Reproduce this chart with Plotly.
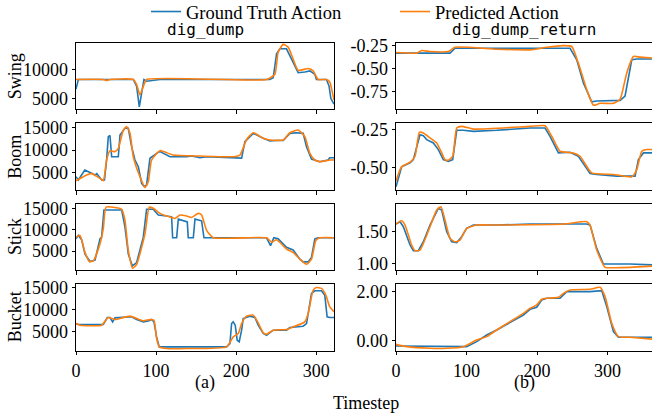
import plotly.graph_objects as go

# ---------------- data ----------------
# left column: dig_dump
swing_gt_t = [0, 2.9, 71.5, 75.7, 79, 81.9, 84.8, 88.1, 100.6, 104.8, 242, 246.1, 250.3, 254.4, 262.7, 271, 277.3, 285.6, 291.9, 298.1, 300.1, 312.6, 315.9, 318, 322]
swing_gt = [6590, 8240, 8240, 7060, 3530, 5590, 8240, 7940, 8120, 8240, 8240, 8530, 12650, 13530, 13530, 11180, 9410, 9530, 9710, 9120, 8240, 8240, 7060, 5000, 4000]
swing_pr_t = [0, 34.1, 38.2, 42.4, 71.5, 75.7, 79.8, 84.8, 88.1, 237.8, 248.2, 252.3, 258.6, 264.8, 271, 277.3, 289.8, 296, 302.2, 312.6, 316.7, 320, 322]
swing_pr = [8240, 8240, 8060, 8240, 8240, 7350, 5590, 7350, 8240, 8240, 9120, 12940, 14290, 13820, 11760, 9820, 10120, 9710, 8240, 8240, 7800, 6000, 4700]

boom_gt_t = [0, 2.9, 11, 16, 24, 26, 30, 32, 35.5, 38.2, 40.3, 42.4, 44.5, 52.8, 54.9, 61.1, 65.3, 69.4, 73.6, 77.8, 81.9, 85.2, 88.1, 92.3, 100.6, 104.8, 117.3, 138.1, 144.3, 154.7, 163, 196.2, 206.7, 210.8, 221.2, 233.7, 242, 250.3, 258.6, 266.9, 275.2, 283.5, 287.7, 293.9, 304.3, 314.6, 316.7, 322]
boom_gt = [4120, 3390, 5600, 5230, 4500, 4800, 3760, 3400, 3400, 7800, 12930, 13200, 8520, 8520, 13300, 14780, 14780, 10730, 7800, 6330, 2660, 1920, 2300, 8170, 9270, 9640, 8520, 8520, 8700, 8300, 8520, 8400, 8200, 11830, 13670, 12570, 12000, 12100, 12100, 13670, 13800, 13670, 10730, 8000, 7430, 7800, 8300, 8300]
boom_pr_t = [0, 13.3, 19.5, 29.9, 34.1, 38.2, 42.4, 48.6, 52.8, 59.1, 63.2, 67.4, 71.5, 79.8, 86.1, 90.2, 94.4, 104.8, 121.4, 154.7, 196.2, 204.6, 212.9, 221.2, 233.7, 242, 258.6, 266.9, 277.3, 285.6, 291.9, 298.1, 304.3, 316.7, 322]
boom_pr = [3230, 4500, 4800, 3760, 3230, 7800, 9850, 9640, 10370, 14400, 15140, 13670, 8520, 4120, 1770, 3020, 7800, 9850, 8880, 8670, 8520, 8880, 12300, 13800, 12570, 12200, 12200, 13800, 14400, 12930, 9270, 7800, 7430, 7800, 7800]

stick_gt_t = [0, 2.9, 7.1, 11.2, 17.5, 23.7, 29.9, 32, 34.9, 57, 61.1, 65.3, 70.3, 75.7, 84, 88.1, 96.4, 102.7, 113.1, 119.3, 120.6, 125.6, 127.7, 136, 138.9, 140.1, 146.4, 148.5, 156.8, 159.7, 237.8, 242.8, 246.9, 252.3, 262.7, 271, 279.4, 283.5, 289.8, 293.9, 298.1, 302.2, 322]
stick_gt = [7860, 8650, 7620, 4280, 2540, 2850, 7860, 8250, 14600, 14600, 10640, 4280, 1500, 2300, 8250, 14760, 14760, 13410, 13180, 13000, 8100, 8100, 12460, 12060, 11800, 8100, 8100, 12460, 12060, 8100, 8100, 6270, 8100, 7860, 5870, 5240, 3090, 2460, 2460, 3490, 7860, 8100, 8100]
stick_pr_t = [0, 5, 11.2, 16.6, 21.6, 29.9, 34.1, 37.4, 46.6, 57, 61.1, 65.3, 70.7, 75.7, 86.1, 91.4, 96.4, 104.8, 113.1, 119.3, 123.5, 129.8, 138.1, 144.3, 152.6, 156.8, 163, 171.3, 237.8, 244.1, 250.3, 262.7, 271, 279.4, 287.7, 293.9, 299.3, 304.3, 322]
stick_pr = [8250, 8650, 4680, 2540, 2700, 6660, 10240, 15240, 15240, 14760, 12220, 5080, 950, 1900, 9050, 15240, 15000, 13810, 13180, 12860, 12620, 13410, 13180, 12860, 13810, 13410, 9840, 8100, 8100, 7060, 7620, 5480, 4680, 3090, 1900, 3090, 7460, 8100, 8100]

bucket_gt_t = [0, 2.9, 34.1, 39.1, 42.4, 45.7, 48.6, 63.2, 69.4, 75.7, 84, 90.2, 94.4, 97.3, 100.6, 103.9, 108.9, 187.9, 192.1, 194.2, 196.2, 198.7, 201.2, 203.7, 206.7, 208.7, 217, 223.3, 227.4, 233.7, 237.8, 246.1, 262.7, 266.9, 283.5, 287.7, 293.9, 298.1, 306.4, 310.5, 313.4, 316.7, 322]
bucket_gt = [6840, 6620, 6620, 8200, 8200, 7220, 8120, 8350, 8350, 7740, 7220, 7440, 7740, 7220, 3830, 1580, 1580, 1580, 2330, 6840, 7220, 6470, 3080, 2710, 5340, 7970, 8500, 8200, 6470, 4590, 4210, 5340, 5340, 5940, 6240, 6840, 13610, 14210, 14210, 13230, 8350, 8200, 8200]
bucket_pr_t = [0, 5, 32, 40.3, 48.6, 67.4, 84, 92.3, 97.3, 100.6, 103.9, 113.1, 138.1, 187.9, 196.2, 202.5, 206.7, 212.9, 221.2, 227.4, 233.7, 237.8, 246.1, 262.7, 271, 285.6, 289.8, 296, 300.1, 306.4, 311.8, 316.7, 322]
bucket_pr = [6840, 6470, 6470, 8200, 7740, 8500, 7440, 7740, 7590, 3460, 1580, 1200, 1200, 1580, 3830, 4590, 6840, 8500, 8730, 6990, 4740, 4440, 5340, 5490, 6090, 7220, 9100, 14360, 14960, 14740, 13230, 10600, 9500]

# right column: dig_dump_return
rswing_gt_t = [0, 76.6, 83.7, 246.8, 256.3, 265.7, 277.5, 284.6, 317.7, 324.8, 334.3, 341.4, 366]
rswing_gt = [-0.332, -0.332, -0.279, -0.279, -0.404, -0.654, -0.86, -0.85, -0.843, -0.796, -0.404, -0.396, -0.396]
rswing_pr_t = [0, 29.3, 36.4, 48.2, 74.2, 83.7, 142.8, 190.1, 213.7, 237.4, 249.2, 258.6, 270.4, 279.9, 289.4, 308.3, 317.7, 327.2, 336.6, 346.1, 366]
rswing_pr = [-0.325, -0.332, -0.304, -0.314, -0.314, -0.268, -0.289, -0.296, -0.268, -0.25, -0.26, -0.44, -0.725, -0.896, -0.875, -0.875, -0.832, -0.546, -0.368, -0.375, -0.386]

rboom_gt_t = [0, 3.3, 8, 19.9, 24.6, 34, 38.8, 43.5, 53, 60, 67.1, 74.2, 80.4, 86.1, 95.5, 109.7, 142.8, 190.1, 211.3, 218.4, 230.3, 246.8, 258.6, 275.2, 284.6, 313, 339, 343.7, 350.8, 366]
rboom_gt = [-0.624, -0.565, -0.493, -0.467, -0.446, -0.283, -0.289, -0.315, -0.337, -0.38, -0.446, -0.457, -0.446, -0.254, -0.254, -0.261, -0.254, -0.239, -0.239, -0.293, -0.402, -0.398, -0.424, -0.537, -0.543, -0.554, -0.554, -0.446, -0.402, -0.402]
rboom_pr_t = [0, 5.7, 8, 19.9, 27, 33.1, 38.8, 48.2, 57.7, 64.8, 69.5, 74.2, 80.4, 86.1, 93.1, 109.7, 190.1, 211.3, 220.8, 232.6, 251.5, 261, 277.5, 308.3, 334.3, 341.4, 348.5, 355.6, 366]
rboom_pr = [-0.587, -0.511, -0.493, -0.463, -0.424, -0.267, -0.272, -0.304, -0.337, -0.402, -0.446, -0.45, -0.424, -0.239, -0.228, -0.246, -0.228, -0.224, -0.293, -0.391, -0.402, -0.424, -0.533, -0.543, -0.559, -0.511, -0.391, -0.38, -0.38]

rstick_gt_t = [0, 5.7, 10.4, 19.9, 24.6, 31.7, 38.8, 48.2, 60, 64.8, 71.9, 79, 86.1, 93.1, 100.2, 109.7, 142.8, 190.1, 270.4, 275.2, 284.6, 294.1, 331.9, 366]
rstick_gt = [1.619, 1.655, 1.577, 1.294, 1.206, 1.206, 1.345, 1.603, 1.861, 1.835, 1.5, 1.345, 1.33, 1.423, 1.552, 1.603, 1.603, 1.619, 1.619, 1.603, 1.242, 1.0, 1.0, 0.985]
rstick_pr_t = [0, 8, 12.8, 22.2, 27, 34, 48.2, 57.7, 63.8, 69.5, 76.6, 83.7, 90.8, 100.2, 114.4, 142.8, 237.4, 270.4, 275.2, 284.6, 296.5, 308.3, 331.9, 366]
rstick_pr = [1.619, 1.67, 1.603, 1.294, 1.206, 1.216, 1.577, 1.835, 1.887, 1.68, 1.397, 1.345, 1.371, 1.552, 1.603, 1.603, 1.619, 1.655, 1.603, 1.216, 0.948, 0.943, 0.948, 0.969]

rbucket_gt_t = [0, 48.2, 100.2, 114.4, 128.6, 142.8, 161.7, 180.6, 190.1, 199.5, 206.6, 213.7, 232.6, 242.1, 275.2, 291.7, 298.8, 308.3, 315.4, 366]
rbucket_gt = [-0.218, -0.245, -0.245, -0.041, 0.231, 0.435, 0.734, 1.047, 1.278, 1.36, 1.66, 1.727, 1.727, 2.0, 2.0, 2.04, 1.387, 0.367, 0.136, 0.136]
rbucket_pr_t = [0, 15.1, 48.2, 71.9, 95.5, 114.4, 128.6, 142.8, 161.7, 180.6, 190.1, 199.5, 206.6, 213.7, 230.3, 237.4, 246.8, 275.2, 289.4, 296.5, 305.9, 315.4, 331.9, 366]
rbucket_pr = [-0.15, -0.245, -0.313, -0.313, -0.245, 0.027, 0.163, 0.435, 0.775, 1.115, 1.319, 1.455, 1.686, 1.727, 1.768, 1.93, 2.067, 2.094, 2.176, 1.795, 0.707, 0.163, 0.136, 0.054]

row_names = ["Swing", "Boom", "Stick", "Bucket"]
col_titles = ["dig_dump", "dig_dump_return"]
sub_labels = ["(a)", "(b)"]
x_ticks = [0, 100, 200, 300]

left_y_ticks = [[5000, 10000], [5000, 10000, 15000], [5000, 10000, 15000], [5000, 10000, 15000]]
right_y_ticks = [[-0.75, -0.50, -0.25], [-0.50, -0.25], [1.00, 1.50], [0.00, 2.00]]
right_y_text = [["-0.75", "-0.50", "-0.25"], ["-0.50", "-0.25"], ["1.00", "1.50"], ["0.00", "2.00"]]

left_series = [(swing_gt_t, swing_gt, swing_pr_t, swing_pr),
               (boom_gt_t, boom_gt, boom_pr_t, boom_pr),
               (stick_gt_t, stick_gt, stick_pr_t, stick_pr),
               (bucket_gt_t, bucket_gt, bucket_pr_t, bucket_pr)]
right_series = [(rswing_gt_t, rswing_gt, rswing_pr_t, rswing_pr),
                (rboom_gt_t, rboom_gt, rboom_pr_t, rboom_pr),
                (rstick_gt_t, rstick_gt, rstick_pr_t, rstick_pr),
                (rbucket_gt_t, rbucket_gt, rbucket_pr_t, rbucket_pr)]

# ---------------- layout / style ----------------
W, H = 652, 413
BLUE, ORANGE = "#1f77b4", "#ff7f0e"
SERIF = "Liberation Serif"
MONO = "DejaVu Sans Mono"

left_y_range = [[3100, 14530], [1190, 15880], [560, 16000], [720, 15740]]
right_y_range = [[-0.94, -0.222], [-0.645, -0.208], [0.907, 1.929], [-0.41, 2.31]]
x_range = [[0, 322], [0, 363]]

col_px = [(76, 334), (396, 652)]
row_px = [(43, 109.3), (123.3, 190), (204, 270), (284, 350.7)]

fig = go.Figure()
layout = {}

for r in range(4):
    for c in range(2):
        i = r * 2 + c + 1
        xs = "" if i == 1 else str(i)
        series = left_series[r] if c == 0 else right_series[r]
        gt_t, gt, pr_t, pr = series
        fig.add_trace(go.Scatter(x=gt_t, y=gt, mode="lines", line=dict(color=BLUE, width=1.6),
                                 name="Ground Truth Action", showlegend=(i == 1),
                                 xaxis="x" + xs, yaxis="y" + xs))
        fig.add_trace(go.Scatter(x=pr_t, y=pr, mode="lines",
                                 line=dict(color=ORANGE, width=1.6, shape="spline", smoothing=0.5),
                                 name="Predicted Action", showlegend=(i == 1),
                                 xaxis="x" + xs, yaxis="y" + xs))
        x0, x1 = col_px[c]
        y0, y1 = row_px[r]
        common = dict(showline=True, linecolor="black", linewidth=1, mirror=True,
                      ticks="outside", ticklen=3.5, tickwidth=1, tickcolor="black",
                      showgrid=False, zeroline=False,
                      tickfont=dict(family=SERIF, size=18, color="black"))
        layout["xaxis" + xs] = dict(common, domain=[x0 / W, x1 / W], anchor="y" + xs,
                                    range=x_range[c], tickvals=x_ticks,
                                    showticklabels=(r == 3))
        if c == 0:
            yt = dict(tickvals=left_y_ticks[r], ticktext=[str(v) for v in left_y_ticks[r]])
            yr = left_y_range[r]
        else:
            yt = dict(tickvals=right_y_ticks[r], ticktext=right_y_text[r])
            yr = right_y_range[r]
        layout["yaxis" + xs] = dict(common, domain=[1 - y1 / H, 1 - y0 / H], anchor="x" + xs,
                                    range=yr, **yt)

annotations = []
for c in range(2):
    cx = (col_px[c][0] + col_px[c][1]) / 2 / W
    annotations.append(dict(text=col_titles[c], x=cx, y=1 - 41 / H, xref="paper", yref="paper",
                            xanchor="center", yanchor="bottom", showarrow=False,
                            font=dict(family=MONO, size=16, color="black")))
    annotations.append(dict(text=sub_labels[c], x=cx, y=1 - 382 / H, xref="paper", yref="paper",
                            xanchor="center", yanchor="middle", showarrow=False,
                            font=dict(family=SERIF, size=18, color="black")))
for r in range(4):
    cy = 1 - (row_px[r][0] + row_px[r][1]) / 2 / H
    annotations.append(dict(text=row_names[r], x=15 / W, y=cy, xref="paper", yref="paper",
                            xanchor="center", yanchor="middle", textangle=-90, showarrow=False,
                            font=dict(family=SERIF, size=18, color="black")))
annotations.append(dict(text="Timestep", x=366 / W, y=1 - 403 / H, xref="paper", yref="paper",
                        xanchor="center", yanchor="middle", showarrow=False,
                        font=dict(family=SERIF, size=18, color="black")))

fig.update_layout(
    width=W, height=H,
    margin=dict(l=0, r=0, t=0, b=0, autoexpand=False),
    paper_bgcolor="white", plot_bgcolor="white",
    showlegend=True,
    legend=dict(orientation="h", x=146 / W, xanchor="left", y=1 + 7 / H, yanchor="top",
                font=dict(family=SERIF, size=18.5, color="black"),
                entrywidth=204, entrywidthmode="pixels",
                bgcolor="rgba(0,0,0,0)", tracegroupgap=0),
    annotations=annotations,
    **layout,
)

fig.write_html("out.html", config={"displayModeBar": False},
               post_script="document.body.style.margin='0';document.body.style.overflow='hidden';")
